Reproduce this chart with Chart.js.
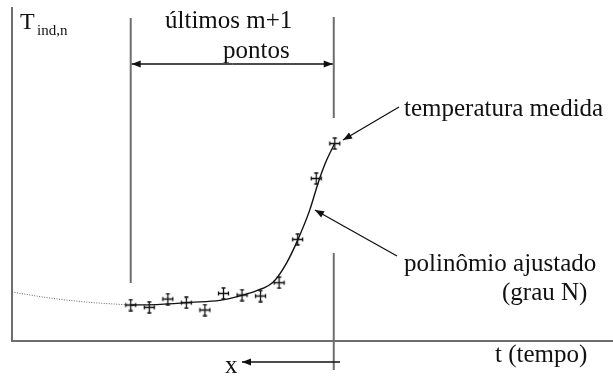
<!DOCTYPE html>
<html>
<head>
<meta charset="utf-8">
<script src="https://cdn.jsdelivr.net/npm/chart.js@4/dist/chart.umd.min.js"></script>
<style>
  body { margin: 0; background: #fff; font-family: 'Liberation Serif', serif; }
  #wrap { width: 613px; height: 378px; }
  #pre { position: absolute; left: -999px; font: 25px 'Liberation Serif'; }
</style>
</head>
<body>
<span id="pre">últimos pontos</span>
<div id="wrap"><canvas id="mycanvas"></canvas></div>
<script>
// measured points (time index, temperature)
var tempo = [0, 1, 2, 3, 4, 5, 6, 7, 8, 9, 10, 11];
var temperatura = [10.8, 10.1, 12.6, 11.5, 9.3, 14.3, 13.8, 13.5, 17.5, 30.5, 48.8, 59.3];

// fitted polynomial over the last m+1 points
var ajusteT = [0, 1.6, 3.2, 4.8, 6.0, 6.8, 7.7, 8.4, 9.0, 9.65, 10.1, 10.5, 11.0];
var ajusteY = [10.8, 11.0, 11.6, 12.2, 13.7, 15.1, 17.8, 23.4, 30.3, 39.3, 47.4, 53.5, 59.4];

// earlier part of the curve (dotted)
var anteriorT = [-6.4, -4.35, -2.2, 0];
var anteriorY = [14.7, 12.9, 11.6, 10.8];

var janela = [0, 11]; // first and last of the m+1 points

var SERIF = "'Liberation Serif', 'Times New Roman', serif";

function pares(xs, ys) {
  var out = [];
  for (var i in xs) out.push({x: xs[i], y: ys[i]});
  return out;
}

// cross with error-bar caps used as point style
function marcador() {
  var c = document.createElement('canvas');
  c.width = 13; c.height = 13;
  var g = c.getContext('2d');
  g.strokeStyle = '#111';
  g.lineWidth = 1.3;
  g.beginPath();
  g.moveTo(1.5, 6.5); g.lineTo(11.5, 6.5);
  g.moveTo(1.5, 4.5); g.lineTo(1.5, 8.5);
  g.moveTo(11.5, 4.5); g.lineTo(11.5, 8.5);
  g.moveTo(6.5, 0.5); g.lineTo(6.5, 12.5);
  g.moveTo(4.5, 1); g.lineTo(8.5, 1);
  g.moveTo(4.5, 12); g.lineTo(8.5, 12);
  g.stroke();
  return c;
}

function seta(ctx, x1, y1, x2, y2) {
  var a = Math.atan2(y2 - y1, x2 - x1);
  ctx.beginPath();
  ctx.moveTo(x1, y1);
  ctx.lineTo(x2, y2);
  ctx.stroke();
  ctx.beginPath();
  ctx.moveTo(x2, y2);
  ctx.lineTo(x2 - 9 * Math.cos(a) + 3.5 * Math.sin(a), y2 - 9 * Math.sin(a) - 3.5 * Math.cos(a));
  ctx.lineTo(x2 - 9 * Math.cos(a) - 3.5 * Math.sin(a), y2 - 9 * Math.sin(a) + 3.5 * Math.cos(a));
  ctx.closePath();
  ctx.fill();
}

var anotacoes = {
  id: 'anotacoes',
  afterDraw: function(chart) {
    var ctx = chart.ctx;
    var xs = chart.scales.x;
    var xa = xs.getPixelForValue(janela[0]);
    var xb = xs.getPixelForValue(janela[1]) - 1;
    ctx.save();
    // window limits
    ctx.strokeStyle = '#6e6e6e';
    ctx.lineWidth = 2;
    ctx.beginPath();
    ctx.moveTo(xa, 18); ctx.lineTo(xa, 283);
    ctx.moveTo(xb, 17); ctx.lineTo(xb, 118);
    ctx.moveTo(xb, 253); ctx.lineTo(xb, 370);
    ctx.stroke();

    ctx.strokeStyle = '#111';
    ctx.fillStyle = '#111';
    ctx.lineWidth = 1.3;
    seta(ctx, (xa + xb) / 2, 64, xa + 1, 64);
    seta(ctx, (xa + xb) / 2, 64, xb - 1, 64);
    seta(ctx, 399, 107, 343, 140);
    seta(ctx, 397, 256, 315, 210);
    seta(ctx, 340, 362, 242, 362);

    ctx.textBaseline = 'alphabetic';
    ctx.font = '24px ' + SERIF;
    ctx.fillText('T', 20, 29);
    ctx.font = '15px ' + SERIF;
    ctx.fillText('ind,n', 37, 35);
    ctx.font = '25px ' + SERIF;
    ctx.fillText('últimos m+1', 165, 28);
    ctx.fillText('pontos', 223, 58);
    ctx.fillText('temperatura medida', 404, 116);
    ctx.fillText('polinômio ajustado', 404, 271);
    ctx.fillText('(grau N)', 502, 300);
    ctx.fillText('t (tempo)', 495, 362);
    ctx.fillText('x', 225, 373);
    ctx.restore();
  }
};

function desenhar() {
  var ctx = document.getElementById('mycanvas');
  new Chart(ctx, {
    type: 'scatter',
    data: {
      datasets: [
        {
          label: 'temperatura medida',
          data: pares(tempo, temperatura),
          pointStyle: marcador(),
          pointRadius: 6,
          showLine: false
        },
        {
          label: 'polinômio ajustado',
          data: pares(ajusteT, ajusteY),
          showLine: true,
          borderColor: '#111',
          borderWidth: 1.4,
          pointRadius: 0,
          cubicInterpolationMode: 'monotone'
        },
        {
          label: 'anterior',
          data: pares(anteriorT, anteriorY),
          showLine: true,
          borderColor: '#666',
          borderWidth: 1,
          borderDash: [1, 1.5],
          pointRadius: 0,
          cubicInterpolationMode: 'monotone'
        }
      ]
    },
    options: {
      responsive: true,
      maintainAspectRatio: false,
      animation: false,
      events: [],
      layout: { autoPadding: false, padding: { left: 12, top: 8, right: 0, bottom: 37 } },
      plugins: { legend: { display: false }, tooltip: { enabled: false } },
      scales: {
        x: {
          type: 'linear',
          min: -6.4,
          max: 26,
          grid: { display: false, drawTicks: false },
          ticks: { display: false },
          border: { display: true, color: '#6e6e6e', width: 2 }
        },
        y: {
          type: 'linear',
          min: 0,
          max: 100,
          grid: { display: false, drawTicks: false },
          ticks: { display: false },
          border: { display: true, color: '#6e6e6e', width: 2 }
        }
      }
    },
    plugins: [anotacoes]
  });
}

if (document.fonts && document.fonts.load) {
  document.fonts.load('25px ' + SERIF).then(desenhar, desenhar);
} else {
  desenhar();
}
</script>
</body>
</html>
